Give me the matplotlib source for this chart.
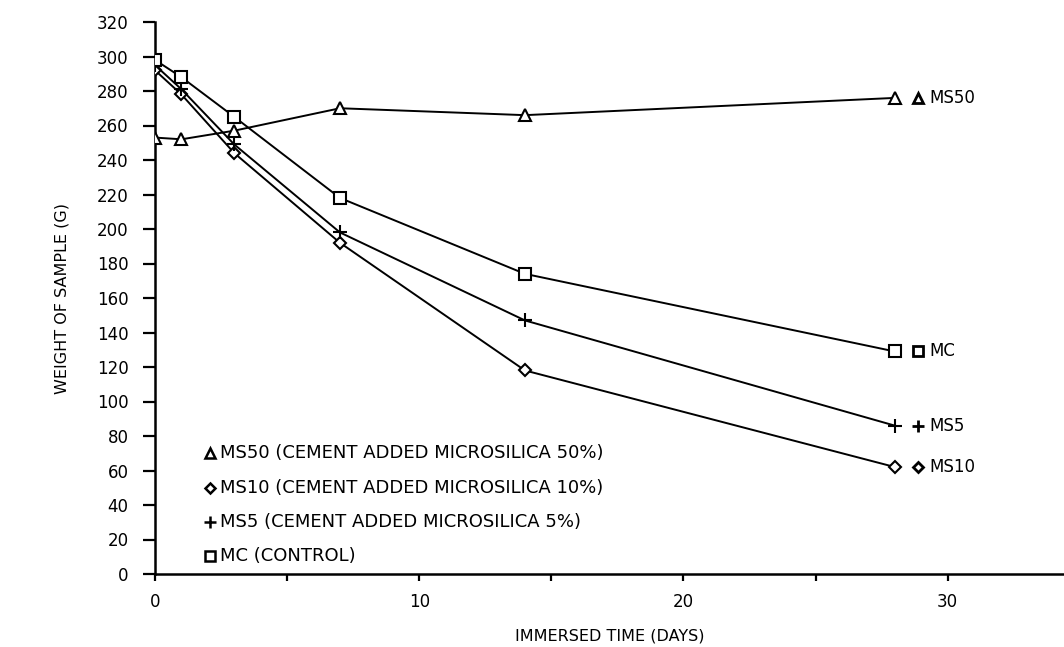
import matplotlib
matplotlib.use("Agg")
import matplotlib.pyplot as plt

days = [0, 1, 3, 7, 14, 28]
ms50 = [253, 252, 257, 270, 266, 276]
ms10 = [292, 278, 244, 192, 118, 62]
ms5 = [295, 281, 249, 198, 147, 86]
mc = [298, 288, 265, 218, 174, 129]

series_names = ["MS50", "MS10", "MS5", "MC"]
legend_labels = ["MS50 (CEMENT ADDED MICROSILICA 50%)",
                 "MS10 (CEMENT ADDED MICROSILICA 10%)",
                 "MS5 (CEMENT ADDED MICROSILICA 5%)",
                 "MC (CONTROL)"]
markers = ["^", "D", "+", "s"]
msizes = [8, 6, 10, 8]
series = [ms50, ms10, ms5, mc]

y_ticks = list(range(0, 321, 20))
x_ticks_major = [0, 10, 20, 30]
x_ticks_minor = [5, 15, 25]

plt.rcParams['font.family'] = ['DejaVu Sans']
fig = plt.figure(figsize=(10.64, 6.47), dpi=100)
ax = fig.add_axes([155/1064, 1-574/647, 1-155/1064, (574-22)/647])

for vals, m, ms in zip(series, markers, msizes):
    ax.plot(days, vals, color='black', lw=1.4, marker=m, ms=ms,
            mfc='white', mec='black', mew=1.5, zorder=3)

# end labels
for name, vals, m, ms in zip(series_names, series, markers, msizes):
    ax.plot([28.86], [vals[-1]], marker=m, ms=ms - 1, mfc='white', mec='black',
            mew=2.0, color='black', clip_on=False, ls='none')
    ax.text(29.3, vals[-1], name, va='center', ha='left', fontsize=12)

# legend (manual, inside lower left)
legend_y = [70, 50, 30, 10.5]
for lab, m, ms, yy in zip(legend_labels, markers, msizes, legend_y):
    ax.plot([2.08], [yy], marker=m, ms=ms - 1, mfc='white', mec='black',
            mew=1.8, ls='none')
    ax.text(2.45, yy, lab, va='center', ha='left', fontsize=13)

ax.set_xlim(0, 34.4)
ax.set_ylim(0, 320)
ax.set_yticks(y_ticks)
ax.set_xticks(x_ticks_major)
ax.set_xticks(x_ticks_minor, minor=True)
ax.tick_params(axis='y', direction='out', length=9, width=1.6, labelsize=12, pad=10)
ax.tick_params(axis='x', which='both', direction='out', length=5, width=1.6,
               labelsize=12, pad=9)
for s in ['top', 'right']:
    ax.spines[s].set_visible(False)
for s in ['left', 'bottom']:
    ax.spines[s].set_linewidth(1.8)

ax.set_xlabel("IMMERSED TIME (DAYS)", fontsize=11.5, labelpad=12)
ax.set_ylabel("WEIGHT OF SAMPLE (G)", fontsize=11.5, labelpad=20)

fig.savefig("out.png", dpi=100)
